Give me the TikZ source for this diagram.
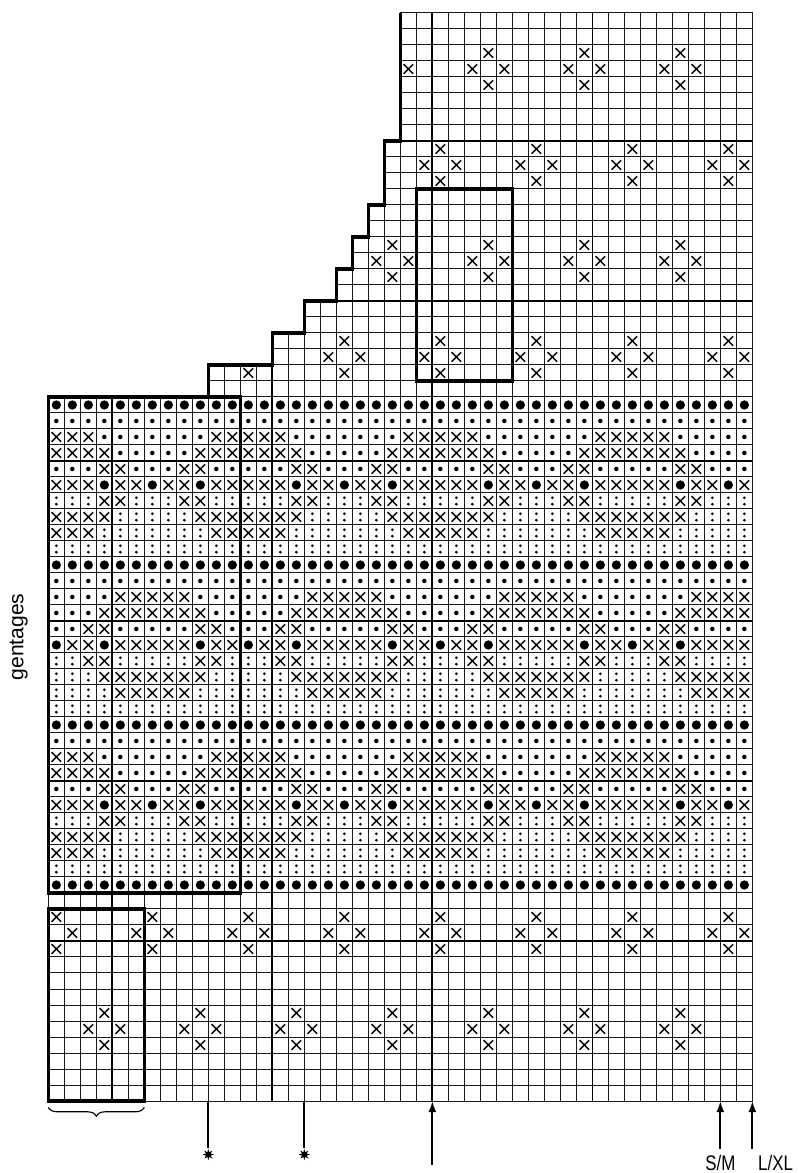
\documentclass[tikz,border=0pt]{standalone}
\usepackage{fontspec}
\setmainfont{Liberation Sans}
\newfontfamily\narrowfont[FakeStretch=0.8]{Liberation Sans}
\usetikzlibrary{arrows.meta, positioning, shapes.geometric, decorations.pathreplacing}

% chart symbols, one cell each (lower left corner given)
\newcommand{\knitX}[2]{\draw[xline] (#1+0.2,#2+0.2) -- (#1+0.8,#2+0.8) (#1+0.2,#2+0.8) -- (#1+0.8,#2+0.2);}
\newcommand{\knitB}[2]{\fill (#1+0.5,#2+0.5) circle (0.29);}
\newcommand{\knitS}[2]{\fill (#1+0.5,#2+0.5) circle (0.14);}
\newcommand{\knitC}[2]{\fill (#1+0.5,#2+0.7) circle (0.095) (#1+0.5,#2+0.3) circle (0.095);}
\newcommand{\knitDiamond}[2]{\knitX{#1}{#2+1}\knitX{#1-1}{#2}\knitX{#1+1}{#2}\knitX{#1}{#2-1}}
\def\chartrim{(0,0) -- (44,0) -- (44,68) -- (22,68) -- (22,60) -- (21,60) -- (21,56) -- (20,56) -- (20,54) -- (19,54) -- (19,52) -- (18,52) -- (18,50) -- (16,50) -- (16,48) -- (14,48) -- (14,46) -- (10,46) -- (10,44) -- (0,44) -- cycle}

\begin{document}
\begin{tikzpicture}[
  x=0.4cm, y=0.4cm,
  gridline/.style={line width=0.7pt, black!90},
  tenline/.style={line width=1.2pt},
  boxline/.style={line width=2.2pt},
  xline/.style={line width=1pt},
  tick/.style={line width=1.3pt},
  pointer/.style={line width=1.3pt, -{Latex[length=2.8mm, width=2mm]}},
  burst/.style={star, star points=8, star point ratio=2.2, fill, inner sep=0pt, minimum size=2.8mm},
  lbl/.style={font=\fontsize{15}{18}\selectfont},
  sizelbl/.style={font=\narrowfont\fontsize{15}{18}\selectfont, inner sep=0pt}
]
\useasboundingbox (-3.02,-4.5) rectangle (46.86,68.81);

\begin{scope}
  \clip \chartrim;
  \draw[gridline, step={(1,1)}] (0,0) grid (44,68);
  \foreach \col in {4,14,24,34} \draw[tenline] (\col,0) -- (\col,68);
  \foreach \row in {10,20,...,60} \draw[tenline] (0,\row) -- (44,\row);

  % fair isle band
  \foreach \r/\sa/\sb/\cond in {
      43/B/B/0, 42/S/S/0, 41/S/X/\dist>=4, 40/S/X/\dist>=3, 39/S/X/\dist==2||\dist==3,
      38/X/B/\dist==0||\dist==3, 37/C/X/\dist==2||\dist==3, 36/C/X/\dist>=3, 35/C/X/\dist>=4, 34/C/C/0,
      33/B/B/0, 32/S/S/0, 31/S/X/\dist<=2, 30/S/X/\dist<=3, 29/S/X/\dist==3||\dist==4,
      28/X/B/\dist==3||\dist==6, 27/C/X/\dist==3||\dist==4, 26/C/X/\dist<=3, 25/C/X/\dist<=2, 24/C/C/0,
      23/B/B/0, 22/S/S/0, 21/S/X/\dist>=4, 20/S/X/\dist>=3, 19/S/X/\dist==2||\dist==3,
      18/X/B/\dist==0||\dist==3, 17/C/X/\dist==2||\dist==3, 16/C/X/\dist>=3, 15/C/X/\dist>=4, 14/C/C/0,
      13/B/B/0} {
    \foreach \c in {0,...,43} {
      \pgfmathtruncatemacro{\dist}{abs(mod(\c,12)-6)}
      \pgfmathtruncatemacro{\hit}{\cond}
      \ifnum\hit=1 \csname knit\sb\endcsname{\c}{\r}\else\csname knit\sa\endcsname{\c}{\r}\fi
    }
  }

  % cross motifs
  \foreach \cx in {0,6,...,42} {\knitDiamond{\cx}{10}}
  \foreach \cx in {3,9,...,39} {\knitDiamond{\cx}{4}}
  \foreach \cx in {12,18,...,42} {\knitDiamond{\cx}{46}}
  \foreach \cx in {21,27,33,39} {\knitDiamond{\cx}{52}}
  \foreach \cx in {24,30,36,42} {\knitDiamond{\cx}{58}}
  \foreach \cx in {21,27,33,39} {\knitDiamond{\cx}{64}}
\end{scope}

\draw[gridline] \chartrim;
\draw[boxline] (10,44) -- (10,46) -- (14,46) -- (14,48) -- (16,48) -- (16,50) -- (18,50) -- (18,52)
  -- (19,52) -- (19,54) -- (20,54) -- (20,56) -- (21,56) -- (21,60) -- (22,60) -- (22,68);
\draw[boxline] (0,13) rectangle (12,44);
\draw[boxline] (0,0) rectangle (6,12);
\draw[boxline] (23,45) rectangle (29,57);

\node[lbl, rotate=90] (gentages) at (-1.85,29.0) {gentages};
\draw[line width=0.8pt, decorate, decoration={brace, mirror, amplitude=2.2mm}] (0,-0.4) -- (6,-0.4);

% markers under the chart
\coordinate (mark10) at (10,0);
\coordinate (mark16) at (16,0);
\node[burst] (star10) at (10,-3.35) {};
\node[burst] (star16) at (16,-3.35) {};
\draw[tick] (mark10) -- (star10);
\draw[tick] (mark16) -- (star16);

\coordinate (centre) at (24,0);
\coordinate (centrefoot) at (24,-4.0);
\draw[pointer] (centrefoot) -- (centre);

\coordinate (smtop) at (42,0);
\coordinate (smfoot) at (42,-3.0);
\coordinate (lxltop) at (44,0);
\coordinate (lxlfoot) at (44,-3.0);
\draw[pointer] (smfoot) -- (smtop);
\draw[pointer] (lxlfoot) -- (lxltop);
\node[sizelbl] (sm) at (42,-3.85) {S/M};
\node[sizelbl] (lxl) at (45.45,-3.85) {L/XL};
\end{tikzpicture}
\end{document}
